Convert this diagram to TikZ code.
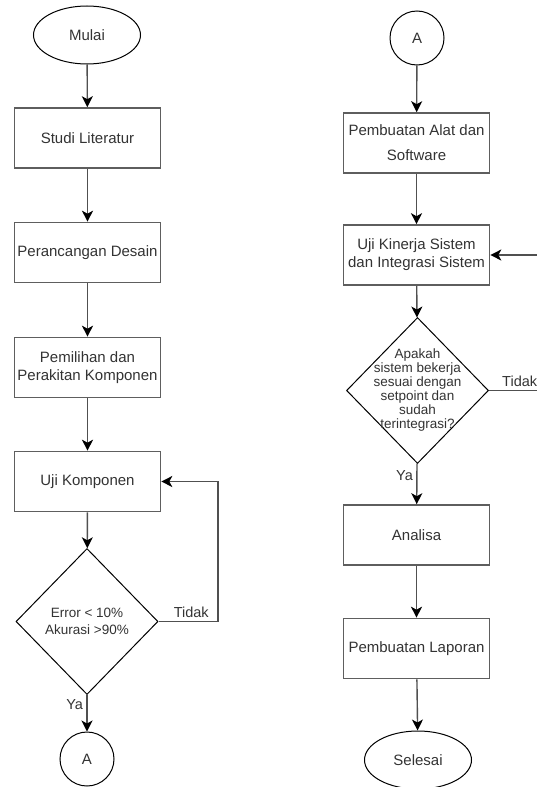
\documentclass[tikz,border=0pt]{standalone}
\usepackage{fontspec}
\setmainfont{Liberation Sans}
\usetikzlibrary{shapes.geometric,arrows.meta}
\definecolor{garisbox}{HTML}{5E5E5E}
\definecolor{teks}{HTML}{333333}
\definecolor{garisalur}{HTML}{505050}
\begin{document}
\begin{tikzpicture}[x=1pt,y=-1pt,
  every node/.style={text=teks,font=\fontsize{15}{18}\selectfont,align=center},
  proses/.style={draw=garisbox,line width=1.6pt,fill=white,minimum width=146pt,minimum height=60pt,inner sep=0pt},
  terminal/.style={ellipse,draw=black,line width=1pt,minimum width=107pt,minimum height=58pt,inner sep=0pt},
  konektor/.style={circle,draw=black,line width=1pt,minimum size=54pt,inner sep=0pt},
  keputusan/.style={diamond,draw=black,line width=1pt,minimum width=142pt,minimum height=146pt,inner sep=0pt},
  isi/.style={font=\fontsize{13.5}{#1}\selectfont},
  alur/.style={draw=garisalur,line width=1.4pt,-{Stealth[length=11pt,width=11pt,inset=3pt,color=black]}},
  ket/.style={font=\fontsize{14.5}{17}\selectfont}]
\useasboundingbox (0,0) rectangle (537,787);
% kolom kiri
\node[terminal] (mulai) at (87,35) {Mulai};
\node[proses] (studi) at (87.5,138) {Studi Literatur};
\node[proses] (desain) at (87.5,252.5) {Perancangan Desain};
\node[proses] (pemilihan) at (87.5,367.5) {Pemilihan dan\\Perakitan Komponen};
\node[proses] (ujikomp) at (87.5,481.5) {Uji Komponen};
\node[keputusan,label={[isi=17]center:{Error < 10\%\\Akurasi >90\%}}] (cek1) at (87,621.5) {};
\node[konektor] (a1) at (87,759) {A};
\coordinate (b1) at (218,621.5);
% kolom kanan
\node[konektor] (a2) at (417,38) {A};
\node[proses] (alat) at (416.5,143) {Pembuatan Alat dan\\[7pt]Software};
\node[proses] (kinerja) at (416.5,255) {Uji Kinerja Sistem\\dan Integrasi Sistem};
\node[keputusan,label={[isi=14]center:{Apakah\\sistem bekerja\\sesuai dengan\\setpoint dan\\sudah\\terintegrasi?}}] (cek2) at (417.5,390.5) {};
\node[proses] (analisa) at (416.5,535) {Analisa};
\node[proses] (laporan) at (416.5,648.5) {Pembuatan Laporan};
\node[terminal] (selesai) at (418,760) {Selesai};
\coordinate (c1) at (548,390.5);
% alur
\draw[alur] (mulai) -- (studi);
\draw[alur] (studi) -- (desain);
\draw[alur] (desain) -- (pemilihan);
\draw[alur] (pemilihan) -- (ujikomp);
\draw[alur] (ujikomp) -- (cek1);
\draw[alur] (cek1) -- node[ket,left,pos=0.25]{Ya} (a1);
\draw[alur] (cek1.east) -- node[ket,above,pos=0.55]{Tidak} (b1) |- (ujikomp.east);
\draw[alur] (a2) -- (alat);
\draw[alur] (alat) -- (kinerja);
\draw[alur] (kinerja) -- (cek2);
\draw[alur] (cek2) -- node[ket,left,pos=0.3]{Ya} (analisa);
\draw[alur] (cek2.east) -- node[ket,above,pos=0.52]{Tidak} (c1) |- (kinerja.east);
\draw[alur] (analisa) -- (laporan);
\draw[alur] (laporan) -- (selesai);
\end{tikzpicture}
\end{document}
